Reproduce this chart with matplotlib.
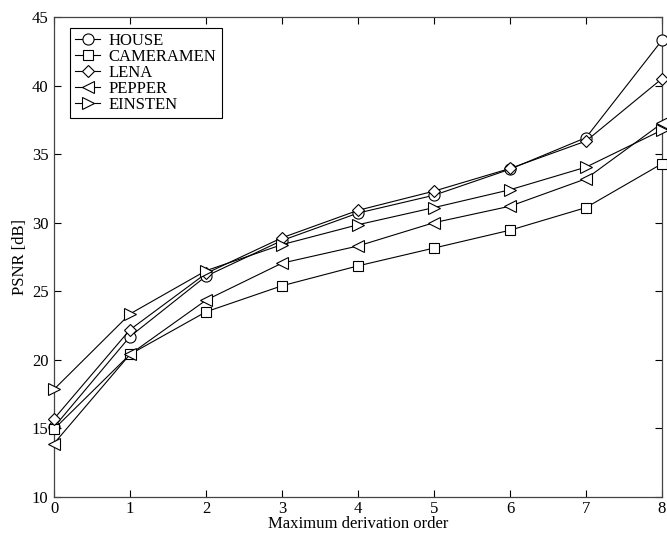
import matplotlib
matplotlib.use("Agg")
import matplotlib.pyplot as plt

plt.rcParams['font.family'] = ['Liberation Serif', 'DejaVu Serif']

orders = [0, 1, 2, 3, 4, 5, 6, 7, 8]
house = [15.1, 21.7, 26.1, 28.7, 30.7, 32.0, 33.9, 36.2, 43.3]
cameramen = [14.95, 20.4, 23.5, 25.4, 26.85, 28.15, 29.45, 31.1, 34.3]
lena = [15.7, 22.2, 26.3, 28.9, 30.9, 32.3, 33.95, 35.95, 40.5]
pepper = [13.9, 20.4, 24.35, 27.05, 28.3, 30.0, 31.2, 33.2, 37.25]
einstein = [17.85, 23.35, 26.5, 28.4, 29.85, 31.1, 32.4, 34.05, 36.75]

series = [("HOUSE", house, "o"), ("CAMERAMEN", cameramen, "s"),
          ("LENA", lena, "D"), ("PEPPER", pepper, "<"), ("EINSTEN", einstein, ">")]
msizes = {"o": 8, "s": 6.5, "D": 6, "<": 8.5, ">": 8.5}

fig = plt.figure(figsize=(6.67, 5.34), dpi=100)
ax = fig.add_axes([0.081, 0.0693, 0.9115, 0.899])
for name, vals, m in series:
    ax.plot(orders, vals, color='black', lw=0.8, marker=m, ms=msizes[m],
            mfc='white', mec='black', mew=0.8, label=name, clip_on=False, zorder=3)

ax.set_xlim(0, 8)
ax.set_ylim(10, 45)
ax.set_xticks(range(0, 9))
ax.set_yticks(range(10, 46, 5))
ax.tick_params(direction='in', top=True, right=True, labelsize=12, length=5, width=0.8)
ax.tick_params(axis='x', pad=3)
ax.tick_params(axis='y', pad=4)
for s in ax.spines.values():
    s.set_linewidth(0.9)
    s.set_color('#444444')
ax.set_xlabel("Maximum derivation order", fontsize=12, labelpad=-1)
ax.set_ylabel("PSNR [dB]", fontsize=12, labelpad=3)
leg = ax.legend(loc='upper left', bbox_to_anchor=(0.027, 0.977), fontsize=12,
                frameon=True, fancybox=False, edgecolor='black', framealpha=1,
                handlelength=1.5, handletextpad=0.5, labelspacing=0.0,
                borderpad=0.3, borderaxespad=0)
leg.get_frame().set_linewidth(0.8)

fig.savefig("out.png", dpi=100)
